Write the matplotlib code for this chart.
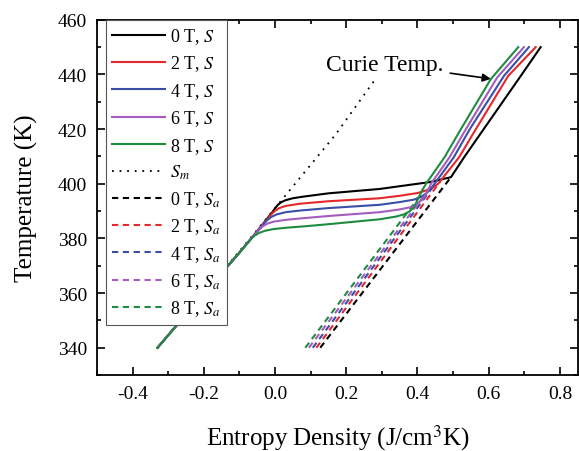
import numpy as np
import matplotlib
matplotlib.use("Agg")
import matplotlib.pyplot as plt
from matplotlib.ticker import MultipleLocator

plt.rcParams['font.family'] = ['Liberation Serif', 'DejaVu Serif']
plt.rcParams['mathtext.fontset'] = 'stix'

# -- Data (entropy density S in J/cm3K, temperature T in K) --
fields = ["0 T", "2 T", "4 T", "6 T", "8 T"]
colors = ["#000000", "#e4282c", "#3b4ea6", "#a45cbf", "#1e8c3e"]

# total entropy S(T) for each field
s_total = [
    [-0.33, -0.2, -0.1, -0.05, -0.02, -0.008, 0.0, 0.008, 0.018, 0.03, 0.05, 0.08, 0.15, 0.294, 0.35, 0.434, 0.494,
     0.531, 0.586, 0.693, 0.746],
    [-0.33, -0.2, -0.1, -0.04, -0.02, -0.01, 0.0, 0.012, 0.03, 0.07, 0.15, 0.294, 0.35, 0.40, 0.425, 0.442, 0.458,
     0.517, 0.564, 0.655, 0.732],
    [-0.33, -0.2, -0.1, -0.05, -0.032, -0.022, -0.01, 0.005, 0.03, 0.07, 0.15, 0.294, 0.35, 0.39, 0.41, 0.425,
     0.436, 0.448, 0.502, 0.547, 0.643, 0.713],
    [-0.33, -0.2, -0.1, -0.06, -0.046, -0.036, -0.022, -0.005, 0.03, 0.07, 0.15, 0.294, 0.35, 0.38, 0.398, 0.412,
     0.424, 0.438, 0.49, 0.536, 0.624, 0.699],
    [-0.33, -0.2, -0.1, -0.07, -0.058, -0.045, -0.028, -0.005, 0.03, 0.08, 0.15, 0.294, 0.34, 0.362, 0.378, 0.39,
     0.40, 0.412, 0.424, 0.476, 0.522, 0.606, 0.683],
]
t_total = [
    [340, 359.8, 374.8, 382.6, 387.6, 389.5, 391.0, 392.3, 393.3, 394.0, 394.7, 395.3, 396.5, 398.1, 399.1, 400.6,
     402.4, 409.7, 420, 440, 450],
    [340, 359.8, 374.8, 384.3, 387.3, 388.9, 390.1, 391.1, 391.9, 392.7, 393.6, 394.7, 395.6, 396.6, 397.6, 398.6,
     400, 409.7, 420, 439.5, 450],
    [340, 359.8, 374.8, 382.6, 385.3, 386.7, 387.9, 388.8, 389.6, 390.2, 391.1, 392.3, 393.3, 394.2, 395.2, 396.5,
     398.0, 400, 409.7, 420, 439.5, 450],
    [340, 359.8, 374.8, 381.0, 383.0, 384.3, 385.4, 386.1, 386.8, 387.3, 388.2, 389.6, 390.6, 391.4, 392.5, 394.0,
     396.2, 400, 409.7, 420, 438.9, 450],
    [340, 359.8, 374.8, 379.4, 381.0, 382.0, 382.8, 383.4, 383.9, 384.4, 385.2, 387.0, 388.0, 388.8, 389.9, 391.5,
     394.0, 397.3, 400, 409.7, 420, 438.3, 450],
]

# magnetic-phase entropy S_m (dotted)
s_m = [-0.33, -0.2, -0.07, 0.05, 0.17, 0.283]
t_m = [340, 359.8, 380, 399, 418, 438.5]

# austenite entropy S_a (dashed) per field
s_a = [[0.127, 0.494], [0.116, 0.465], [0.106, 0.45], [0.095, 0.435], [0.085, 0.415]]
t_a = [[340, 402.4], [340, 401.0], [340, 400.0], [340, 398.5], [340, 397.0]]

fig = plt.figure(figsize=(5.79, 4.52), dpi=100)
ax = fig.add_axes([0.1675, 0.168, 0.8315, 0.786])

lines = []
for i in range(5):
    l, = ax.plot(s_total[i], t_total[i], color=colors[i], lw=1.5,
                 label=fields[i] + r", $S$", zorder=3 + i * 0.1)
    lines.append(l)
lm, = ax.plot(s_m, t_m, color="black", lw=1.3, linestyle=(0, (1, 3.2)),
              label=r"$S_m$", zorder=2)
lines.append(lm)
for i in range(5):
    l, = ax.plot(s_a[i], t_a[i], color=colors[i], lw=1.5, linestyle=(0, (3, 2.2)),
                 label=fields[i] + r", $S_a$", zorder=2)
    lines.append(l)

ax.annotate("Curie Temp.", xy=(0.606, 438.4), xytext=(0.143, 443.8),
            fontsize=17, va="center", ha="left",
            arrowprops=dict(arrowstyle="-|>", color="black", lw=1.2,
                            mutation_scale=12, shrinkA=3, shrinkB=0))

ax.set_xlim(-0.5, 0.852)
ax.set_ylim(330, 460)
ax.xaxis.set_minor_locator(MultipleLocator(0.1))
ax.yaxis.set_major_locator(MultipleLocator(20))
ax.yaxis.set_minor_locator(MultipleLocator(10))
ax.set_xticks(np.arange(-0.4, 0.81, 0.2))
ax.set_xticklabels(["-0.4", "-0.2", "0.0", "0.2", "0.4", "0.6", "0.8"])
ax.tick_params(which="both", direction="in", top=True, right=True, labelsize=14, width=1.2)
ax.tick_params(which="major", length=5.5, pad=7)
ax.tick_params(which="minor", length=3)
for sp in ax.spines.values():
    sp.set_linewidth(1.3)

ax.set_xlabel(r"Entropy Density (J/cm$^3$K)", fontsize=18, labelpad=15)
ax.set_ylabel("Temperature (K)", fontsize=18, labelpad=14)

leg = ax.legend(handles=lines, loc="upper left", bbox_to_anchor=(0.0187, 1.0),
                borderaxespad=0, fontsize=13, handlelength=2.9, handletextpad=0.3,
                labelspacing=0.42, fancybox=False, framealpha=1, edgecolor="#555555",
                borderpad=0.35)
leg.get_frame().set_linewidth(0.8)

fig.savefig("out.png", dpi=100)
